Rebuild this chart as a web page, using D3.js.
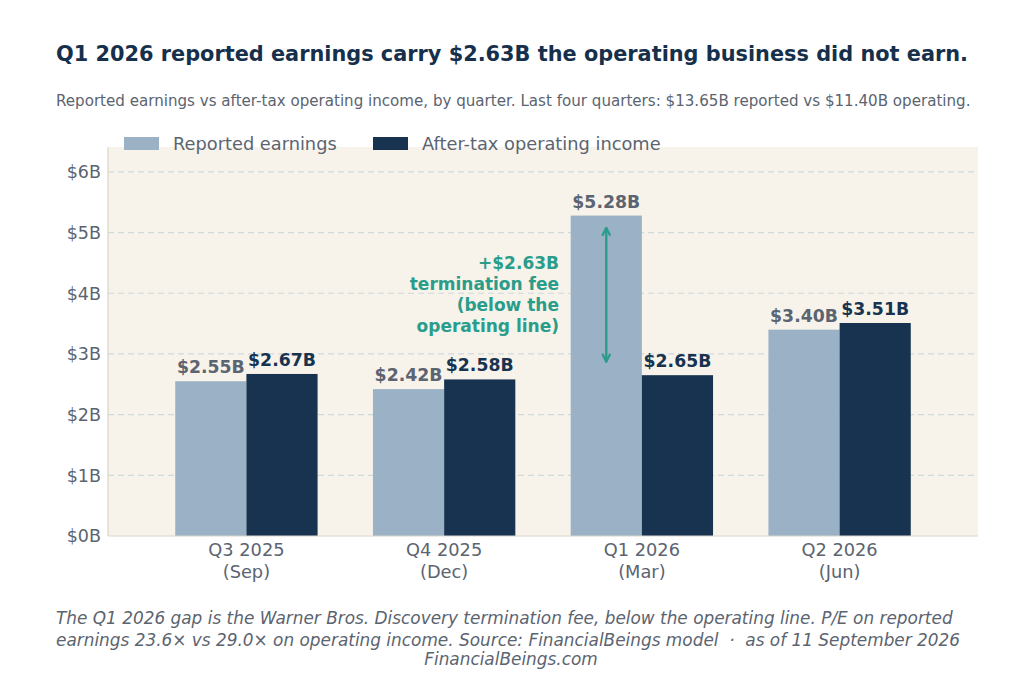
<!DOCTYPE html>
<html>
<head>
<meta charset="utf-8">
<script src="https://cdn.jsdelivr.net/npm/d3@7"></script>
<style>
  body { margin: 0; background: #ffffff; }
  svg text { font-family: "DejaVu Sans", sans-serif; white-space: pre; }
</style>
</head>
<body>
<svg id="chart" width="1024" height="683"></svg>
<script>
// quarters on the x axis (two lines each)
var quarters = ["Q3 2025", "Q4 2025", "Q1 2026", "Q2 2026"];
var months = ["(Sep)", "(Dec)", "(Mar)", "(Jun)"];

// values in $B
var reported = [2.55, 2.42, 5.28, 3.40];
var operating = [2.67, 2.58, 2.65, 3.51];

var yTicks = [0, 1, 2, 3, 4, 5, 6];
var seriesNames = ["Reported earnings", "After-tax operating income"];

// annotation for the termination fee
var feeIndex = 2;
var feeArrow = [5.08, 2.87];
var feeText = ["+$2.63B", "termination fee", "(below the", "operating line)"];

var colLight = "#9bb1c5", colDark = "#183350", colGray = "#5b6470", colTeal = "#2a9d8a";

var svg = d3.select("#chart");

// plot box (note: "top" is taken by window.top)
var plotL = 108, plotR = 978, plotT = 147, plotB = 536;

var x = d3.scaleLinear().domain([-0.7, 3.7]).range([plotL, plotR]);
var y = d3.scaleLinear().domain([0, 6.41]).range([plotB, plotT]);
var bw = 0.36;

// plot background
svg.append("rect")
	.attr("x", plotL).attr("y", plotT)
	.attr("width", plotR - plotL).attr("height", plotB - plotT)
	.attr("fill", "#f7f3eb");

// grid
svg.append("g").selectAll("line")
	.data(yTicks.slice(1))
	.join("line")
	.attr("x1", plotL).attr("x2", plotR)
	.attr("y1", d => y(d)).attr("y2", d => y(d))
	.attr("stroke", "#cfd9da")
	.attr("stroke-width", 1.2)
	.attr("stroke-dasharray", "6,4");

// bars
var idx = d3.range(quarters.length);
svg.append("g").selectAll("rect")
	.data(idx)
	.join("rect")
	.attr("x", i => x(i - bw))
	.attr("y", i => y(reported[i]))
	.attr("width", x(bw) - x(0))
	.attr("height", i => y(0) - y(reported[i]))
	.attr("fill", colLight);

svg.append("g").selectAll("rect")
	.data(idx)
	.join("rect")
	.attr("x", i => x(i))
	.attr("y", i => y(operating[i]))
	.attr("width", x(bw) - x(0))
	.attr("height", i => y(0) - y(operating[i]))
	.attr("fill", colDark);

// value labels
svg.append("g").selectAll("text")
	.data(idx)
	.join("text")
	.attr("x", i => x(i - bw / 2))
	.attr("y", i => y(reported[i]) - 8)
	.attr("text-anchor", "middle")
	.attr("font-size", "17.3px")
	.attr("font-weight", "bold")
	.attr("fill", colGray)
	.text(i => "$" + reported[i].toFixed(2) + "B");

svg.append("g").selectAll("text")
	.data(idx)
	.join("text")
	.attr("x", i => x(i + bw / 2))
	.attr("y", i => y(operating[i]) - 8)
	.attr("text-anchor", "middle")
	.attr("font-size", "17.3px")
	.attr("font-weight", "bold")
	.attr("fill", colDark)
	.text(i => "$" + operating[i].toFixed(2) + "B");

// spines
svg.append("line")
	.attr("x1", plotL).attr("x2", plotL).attr("y1", plotT).attr("y2", plotB)
	.attr("stroke", "#d9d6cc").attr("stroke-width", 1.2);
svg.append("line")
	.attr("x1", plotL).attr("x2", plotR).attr("y1", plotB).attr("y2", plotB)
	.attr("stroke", "#d9d6cc").attr("stroke-width", 1.2);

// y tick labels
svg.append("g").selectAll("text")
	.data(yTicks)
	.join("text")
	.attr("x", plotL - 7)
	.attr("y", d => y(d))
	.attr("dy", "0.36em")
	.attr("text-anchor", "end")
	.attr("font-size", "17.5px")
	.attr("fill", colGray)
	.text(d => "$" + d + "B");

// x tick labels
var xl = svg.append("g").selectAll("text")
	.data(idx)
	.join("text")
	.attr("text-anchor", "middle")
	.attr("font-size", "17.8px")
	.attr("fill", colGray);
xl.append("tspan").attr("x", i => x(i)).attr("y", 556).text(i => quarters[i]);
xl.append("tspan").attr("x", i => x(i)).attr("y", 578).text(i => months[i]);

// arrow for fee
var defs = svg.append("defs");
defs.append("marker")
	.attr("id", "head")
	.attr("viewBox", "0 0 10 10")
	.attr("refX", 9).attr("refY", 5)
	.attr("markerWidth", 10).attr("markerHeight", 10)
	.attr("markerUnits", "userSpaceOnUse")
	.attr("orient", "auto-start-reverse")
	.append("path")
	.attr("d", "M1,1 L9,5 L1,9")
	.attr("fill", "none")
	.attr("stroke", colTeal)
	.attr("stroke-width", 2.2);

svg.append("line")
	.attr("x1", x(feeIndex - bw / 2)).attr("x2", x(feeIndex - bw / 2))
	.attr("y1", y(feeArrow[0])).attr("y2", y(feeArrow[1]))
	.attr("stroke", colTeal)
	.attr("stroke-width", 2.4)
	.attr("marker-start", "url(#head)")
	.attr("marker-end", "url(#head)");

svg.append("g").selectAll("text")
	.data(feeText)
	.join("text")
	.attr("x", 559)
	.attr("y", (d, i) => 269 + i * 21)
	.attr("text-anchor", "end")
	.attr("font-size", "17px")
	.attr("font-weight", "bold")
	.attr("fill", colTeal)
	.text(d => d);

// legend
var legX = [124, 373];
var leg = svg.append("g").selectAll("g")
	.data(seriesNames)
	.join("g");
leg.append("rect")
	.attr("x", (d, i) => legX[i]).attr("y", 137)
	.attr("width", 35).attr("height", 13)
	.attr("fill", (d, i) => i == 0 ? colLight : colDark);
leg.append("text")
	.attr("x", (d, i) => legX[i] + 49).attr("y", 144)
	.attr("dy", "0.36em")
	.attr("font-size", "17.8px")
	.attr("fill", colGray)
	.text(d => d);

// title and subtitle
svg.append("text")
	.attr("x", 56).attr("y", 61)
	.attr("font-size", "20.85px")
	.attr("font-weight", "bold")
	.attr("fill", "#16304c")
	.text("Q1 2026 reported earnings carry $2.63B the operating business did not earn.");

svg.append("text")
	.attr("x", 56).attr("y", 106)
	.attr("font-size", "15.1px")
	.attr("fill", colGray)
	.text("Reported earnings vs after-tax operating income, by quarter. Last four quarters: $13.65B reported vs $11.40B operating.");

// footer
var foot = [
	"The Q1 2026 gap is the Warner Bros. Discovery termination fee, below the operating line. P/E on reported",
	"earnings 23.6\u00d7 vs 29.0\u00d7 on operating income. Source: FinancialBeings model  \u00b7  as of 11 September 2026"
];
svg.append("g").selectAll("text")
	.data(foot)
	.join("text")
	.attr("x", 56)
	.attr("y", (d, i) => 624 + i * 22)
	.attr("font-size", "16.9px")
	.attr("font-style", "italic")
	.attr("fill", colGray)
	.text(d => d);

svg.append("text")
	.attr("x", 511).attr("y", 665)
	.attr("text-anchor", "middle")
	.attr("font-size", "16.9px")
	.attr("font-style", "italic")
	.attr("fill", colGray)
	.text("FinancialBeings.com");
</script>
</body>
</html>
